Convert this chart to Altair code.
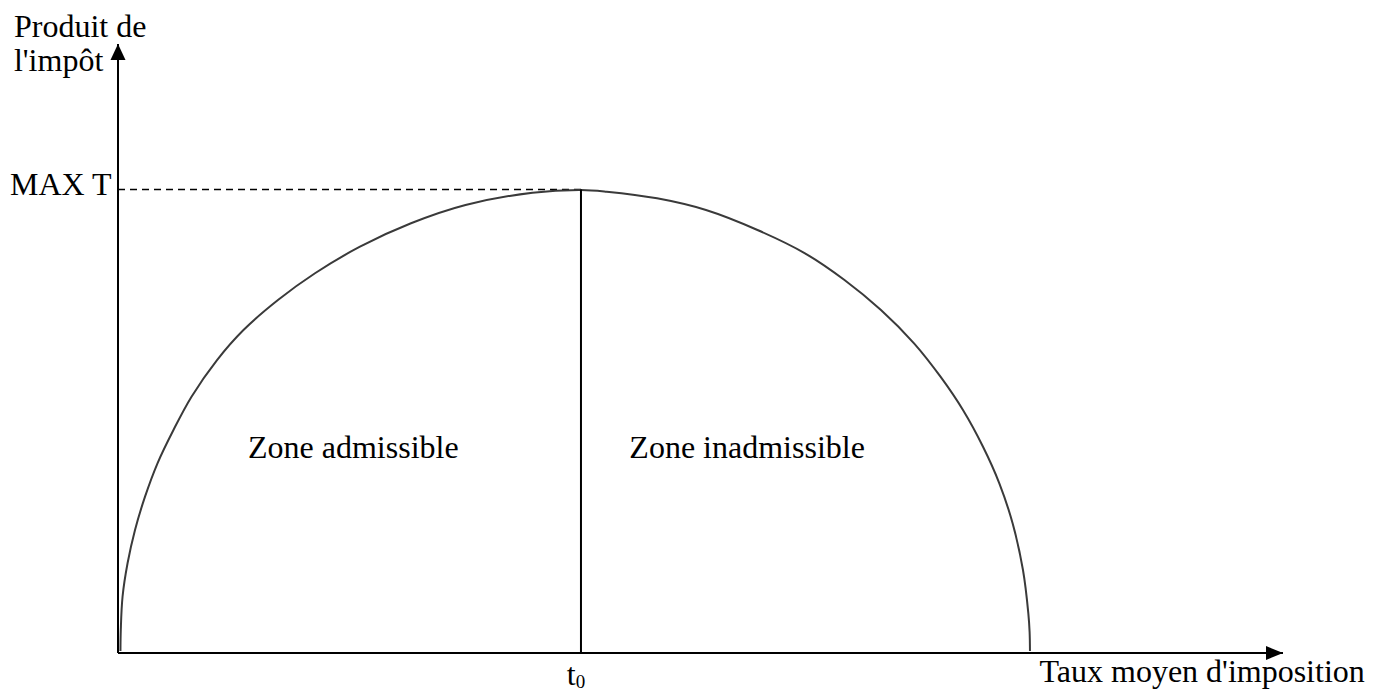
import altair as alt
import pandas as pd

# Curve (x: tax rate, y: tax revenue, both on a 0-100 scale)
CURVE_X = [0.21, 0.24, 0.39, 0.82, 1.46, 2.32, 3.39, 4.76, 6.31, 8.50, 10.77, 13.73,
           16.91, 20.77, 25.15, 29.83, 35.58, 39.74,
           41.95, 46.27, 50.47, 54.89, 58.97, 62.36, 65.49, 68.33, 70.60, 72.53,
           74.25, 75.65, 76.79, 77.68, 78.14, 78.25, 78.28]
CURVE_Y = [0.33, 3.8, 9.24, 14.73, 20.20, 25.67, 31.15, 36.62, 42.09, 48.11, 53.04, 57.96,
           62.35, 66.72, 70.56, 73.56, 75.58, 76.03,
           75.75, 74.66, 72.74, 69.46, 65.63, 61.25, 56.32, 50.85, 45.37, 39.90,
           33.87, 27.87, 21.30, 13.63, 6.52, 3.45, 0.33]

T0 = 39.74
MAX_T = 76.1
AXIS_END = 100

# Labels
LEFT_TEXT = ["Produit de", "l'impôt", "MAX T", "Taux moyen d'imposition"]
LEFT_X = [-8.93, -8.93, -9.27, 79.1]
LEFT_Y = [101.2, 95.6, 75.2, -4.76]

CENTER_TEXT = ["Zone admissible", "Zone inadmissible", "t"]
CENTER_X = [20.2, 54.0, 38.9]
CENTER_Y = [32.0, 32.0, -5.25]

SUB_TEXT = ["0"]
SUB_X = [39.3]
SUB_Y = [-5.75]

FONT = "Liberation Serif"

xs = alt.Scale(domain=[0, 100], nice=False, zero=False)
ys = alt.Scale(domain=[0, 100], nice=False, zero=False)

curve_df = pd.DataFrame({"x": CURVE_X, "y": CURVE_Y, "o": list(range(len(CURVE_X)))})
curve = alt.Chart(curve_df).mark_line(
    color="#3a3a3a", strokeWidth=2, interpolate="catmull-rom"
).encode(
    x=alt.X("x:Q", scale=xs, axis=None),
    y=alt.Y("y:Q", scale=ys, axis=None),
    order="o:Q",
)

axes_df = pd.DataFrame({
    "x": [0, 0], "y": [0, 0],
    "x2": [AXIS_END, 0], "y2": [0, AXIS_END],
})
axes = alt.Chart(axes_df).mark_rule(color="black", strokeWidth=2).encode(
    x=alt.X("x:Q", scale=xs, axis=None),
    y=alt.Y("y:Q", scale=ys, axis=None),
    x2="x2:Q", y2="y2:Q",
)

vline_df = pd.DataFrame({"x": [T0], "y": [0], "y2": [MAX_T]})
vline = alt.Chart(vline_df).mark_rule(color="black", strokeWidth=2).encode(
    x=alt.X("x:Q", scale=xs, axis=None),
    y=alt.Y("y:Q", scale=ys, axis=None),
    y2="y2:Q",
)

dash_df = pd.DataFrame({"x": [0], "x2": [T0], "y": [MAX_T]})
dash = alt.Chart(dash_df).mark_rule(color="black", strokeWidth=1.5, strokeDash=[7, 5]).encode(
    x=alt.X("x:Q", scale=xs, axis=None),
    x2="x2:Q",
    y=alt.Y("y:Q", scale=ys, axis=None),
)

arrow_up = alt.Chart(pd.DataFrame({"x": [0], "y": [AXIS_END]})).mark_point(
    shape="M0,0L-0.47,1L0.47,1Z", size=1024, filled=True, color="black",
    opacity=1, strokeWidth=0,
).encode(
    x=alt.X("x:Q", scale=xs, axis=None),
    y=alt.Y("y:Q", scale=ys, axis=None),
)

arrow_right = alt.Chart(pd.DataFrame({"x": [AXIS_END], "y": [0]})).mark_point(
    shape="M0,0L-1,-0.41L-1,0.41Z", size=1156, filled=True, color="black",
    opacity=1, strokeWidth=0,
).encode(
    x=alt.X("x:Q", scale=xs, axis=None),
    y=alt.Y("y:Q", scale=ys, axis=None),
)

left_txt = alt.Chart(pd.DataFrame({"x": LEFT_X, "y": LEFT_Y, "t": LEFT_TEXT})).mark_text(
    align="left", baseline="alphabetic", font=FONT, fontSize=32, color="black",
).encode(
    x=alt.X("x:Q", scale=xs, axis=None),
    y=alt.Y("y:Q", scale=ys, axis=None),
    text="t:N",
)

center_txt = alt.Chart(pd.DataFrame({"x": CENTER_X, "y": CENTER_Y, "t": CENTER_TEXT})).mark_text(
    align="center", baseline="alphabetic", font=FONT, fontSize=32, color="black",
).encode(
    x=alt.X("x:Q", scale=xs, axis=None),
    y=alt.Y("y:Q", scale=ys, axis=None),
    text="t:N",
)

sub_txt = alt.Chart(pd.DataFrame({"x": SUB_X, "y": SUB_Y, "t": SUB_TEXT})).mark_text(
    align="left", baseline="alphabetic", font=FONT, fontSize=19, color="black",
).encode(
    x=alt.X("x:Q", scale=xs, axis=None),
    y=alt.Y("y:Q", scale=ys, axis=None),
    text="t:N",
)

chart = alt.layer(
    dash, curve, vline, axes, arrow_up, arrow_right, left_txt, center_txt, sub_txt
).properties(
    width=1165,
    height=609,
    autosize=alt.AutoSizeParams(type="none"),
    padding={"left": 110, "top": 36, "right": 90, "bottom": 38},
    background="white",
).configure_view(stroke=None)

chart.save("out.html", embed_options={"renderer": "svg", "actions": False})
